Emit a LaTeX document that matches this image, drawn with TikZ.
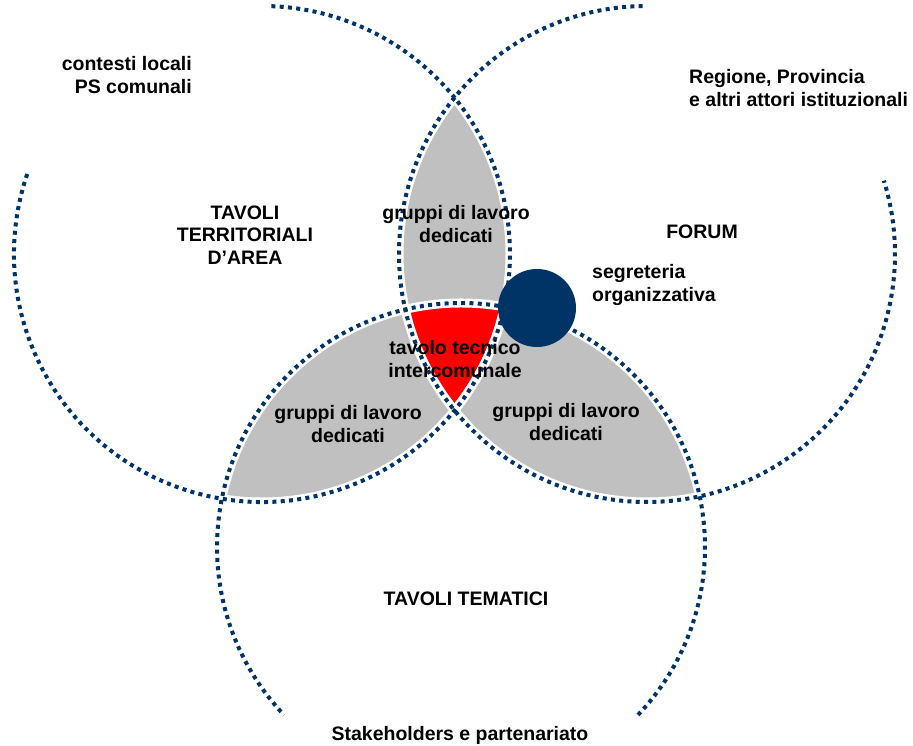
\documentclass[tikz,border=0pt]{standalone}
\usepackage{fontspec}
\setmainfont{Liberation Sans}
\usepackage{tikz}
\usetikzlibrary{positioning}
\usepackage{xcolor}

\definecolor{ringblue}{RGB}{0,51,102}
\definecolor{lensgray}{RGB}{192,192,192}
\newcommand{\labelfont}{\bfseries\fontsize{19.5}{22.5}\selectfont}

\begin{document}
\begin{tikzpicture}[x=1pt,y=1pt,
	ring/.style={draw=ringblue, line width=4pt, dash pattern=on 4pt off 4.3pt},
	gap/.style={draw=white, line width=9pt},
	lbl/.style={font=\labelfont, align=center, inner sep=0pt}]
	  \useasboundingbox (0,0) rectangle (913,746);
	  % centres of the three rings
	  \coordinate (terr) at (262,492);
	  \coordinate (forum) at (647,492);
	  \coordinate (tema) at (461,199);

	  % pairwise overlaps
	  \begin{scope}
	    \clip (terr) circle[radius=248];
	    \fill[lensgray] (forum) circle[radius=248];
	    \fill[lensgray] (tema) circle[radius=244];
	  \end{scope}
	  \begin{scope}
	    \clip (forum) circle[radius=248];
	    \fill[lensgray] (tema) circle[radius=244];
	  \end{scope}
	  % centre of all three
	  \begin{scope}
	    \clip (terr) circle[radius=248];
	    \clip (forum) circle[radius=248];
	    \fill[red] (tema) circle[radius=244];
	  \end{scope}

	  \foreach \c/\r in {terr/248, forum/248, tema/244} {
	    \draw[gap] (\c) circle[radius=\r];
	  };
	  \draw[ring] (terr) ++(161.2:248) arc[start angle=161.2, end angle=448.8, radius=248];
	  \draw[ring] (forum) ++(91:248) arc[start angle=91, end angle=377.2, radius=248];
	  \draw[ring] (tema) ++(-43.5:244) arc[start angle=-43.5, end angle=223.5, radius=244];

	  \node[circle, fill=ringblue, minimum size=78pt, inner sep=0pt] (segr) at (537,438) {};

	  \node[lbl, align=right, anchor=east] (locali) at (192,671) {contesti locali\\PS comunali};
	  \node[lbl, align=left, anchor=west] (regione) at (689,658) {Regione, Provincia\\e altri attori istituzionali};
	  \node[lbl] (tavterr) at (245,511) {TAVOLI\\TERRITORIALI\\D’AREA};
	  \node[lbl] (gruppitop) at (456,522) {gruppi di lavoro\\dedicati};
	  \node[lbl] (forumlbl) at (702,514) {FORUM};
	  \node[lbl, align=left, anchor=west] (segrlbl) at (592,461) {segreteria\\organizzativa};
	  \node[lbl] (tecnico) at (455,387) {tavolo tecnico\\intercomunale};
	  \node[lbl] (gruppileft) at (348,322) {gruppi di lavoro\\dedicati};
	  \node[lbl] (gruppiright) at (566,324) {gruppi di lavoro\\dedicati};
	  \node[lbl] (tavtema) at (466,147) {TAVOLI TEMATICI};
	  \node[lbl] (stake) at (460,11) {Stakeholders e partenariato};
	\end{tikzpicture}
\end{document}
